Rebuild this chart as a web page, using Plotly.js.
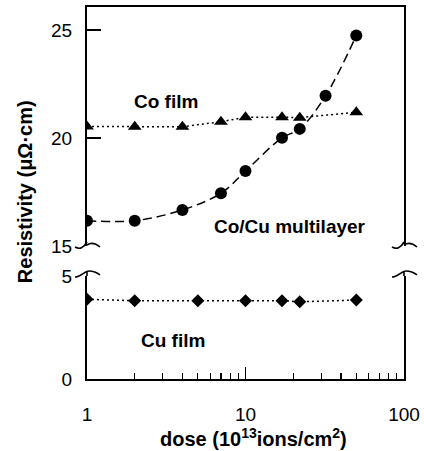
<!DOCTYPE html>
<html>
<head>
<meta charset="utf-8">
<script src="https://cdn.plot.ly/plotly-3.0.1.min.js"></script>
<style>html,body{margin:0;padding:0;background:#fff}#chart{width:424px;height:451px}</style>
</head>
<body>
<div id="chart"></div>
<script>
// Data
const coFilmDose = [1, 2, 4, 7, 10, 17, 22, 50];
const coFilmRes  = [20.53, 20.52, 20.52, 20.75, 20.96, 20.96, 20.94, 21.19];

const multiDose = [1, 2, 4, 7, 10, 17, 22, 32, 50];
const multiRes  = [16.17, 16.17, 16.67, 17.44, 18.47, 20.01, 20.42, 21.95, 24.74];

const cuFilmDose = [1, 2, 5, 10, 17, 22, 50];
const cuFilmRes  = [3.87, 3.80, 3.80, 3.80, 3.80, 3.75, 3.83];

const xTickVals = [1, 10, 100];
const xTickText = ['1', '10', '100'];
const xMinorVals = [2,3,4,5,6,7,8,9,20,30,40,50,60,70,80,90];
const upperTickVals = [15, 20, 25];
const upperTickMarks = [20, 25];
const lowerTickVals = [0, 5];

const labels = {co: 'Co film', multi: 'Co/Cu multilayer', cu: 'Cu film'};

const traces = [
  {x: coFilmDose, y: coFilmRes, xaxis: 'x2', yaxis: 'y2', mode: 'lines+markers',
   line: {color: '#000', width: 1.5, dash: '2px,3px'},
   marker: {symbol: 'triangle-up', size: 12, color: '#000'}},
  {x: multiDose, y: multiRes, xaxis: 'x2', yaxis: 'y2', mode: 'lines+markers',
   line: {color: '#000', width: 1.5, dash: '9px,5px', shape: 'spline', smoothing: 1},
   marker: {symbol: 'circle', size: 12, color: '#000'}},
  {x: cuFilmDose, y: cuFilmRes, xaxis: 'x', yaxis: 'y', mode: 'lines+markers',
   line: {color: '#000', width: 1.5, dash: '2px,3px'},
   marker: {symbol: 'diamond', size: 10, color: '#000'}}
];

const fam = 'Liberation Sans, Arial, sans-serif';
const tickFont = {family: fam, size: 19, color: '#000'};
const boldFont = {family: fam, size: 19, color: '#000', weight: 'bold'};
const titleFont = {family: fam, size: 20, color: '#000', weight: 'bold'};

const upperBottom = 0.3575, lowerTop = 0.2769;

function brk(side, anchor, upper) {
  const path = upper
    ? 'M -12,-1 Q -5,-5 0,4 M 0,1 Q 6,5 13,-1'
    : 'M -12,-1 C -6,-1 -3,5 2,5 Q 8,5 13,1 M 0,4 L 0,0';
  return {type: 'path', xref: 'paper', yref: 'paper', xsizemode: 'pixel', ysizemode: 'pixel',
    xanchor: side, yanchor: anchor, path: path, line: {color: '#000', width: 1.6}};
}

const layout = {
  width: 424, height: 451,
  margin: {l: 87, r: 20, t: 7, b: 72},
  paper_bgcolor: '#fff', plot_bgcolor: '#fff',
  showlegend: false,
  xaxis: {type: 'log', range: [0, 2], domain: [0, 1], anchor: 'y',
    tickvals: xTickVals, ticktext: xTickText,
    ticks: 'inside', ticklen: 12, tickwidth: 1.5, tickcolor: '#000',
    minor: {tickvals: xMinorVals, ticks: 'inside', ticklen: 6, tickwidth: 1.2, tickcolor: '#000', showgrid: false},
    showline: true, linewidth: 2, linecolor: '#000', mirror: false,
    showgrid: false, zeroline: false, tickfont: tickFont, ticklabelstandoff: 17},
  xaxis2: {type: 'log', matches: 'x', anchor: 'y2', side: 'top',
    showticklabels: false, ticks: '', showline: true, linewidth: 2, linecolor: '#000',
    showgrid: false, zeroline: false},
  yaxis: {domain: [0, lowerTop], range: [0, 5], anchor: 'x',
    tickvals: lowerTickVals, ticks: '', showline: true, linewidth: 2, linecolor: '#000',
    mirror: true, showgrid: false, zeroline: false, tickfont: tickFont, ticklabelstandoff: 9},
  yaxis2: {domain: [upperBottom, 1], range: [15, 26.06], anchor: 'x2',
    tickvals: upperTickVals, ticks: '',
    minor: {tickvals: upperTickMarks, ticks: 'inside', ticklen: 14, tickwidth: 1.5, tickcolor: '#000', showgrid: false},
    showline: true, linewidth: 2, linecolor: '#000',
    mirror: true, showgrid: false, zeroline: false, tickfont: tickFont, ticklabelstandoff: 9},
  shapes: [
    brk(0, upperBottom, true), brk(1, upperBottom, true),
    brk(0, lowerTop, false), brk(1, lowerTop, false)
  ],
  annotations: [
    {text: labels.co, xref: 'x2', yref: 'y2', x: Math.log10(3.17), y: 21.71, xanchor: 'center', yanchor: 'middle', showarrow: false, font: boldFont},
    {text: labels.multi, xref: 'x2', yref: 'y2', x: Math.log10(18.95), y: 15.88, xanchor: 'center', yanchor: 'middle', showarrow: false, font: boldFont},
    {text: labels.cu, xref: 'x', yref: 'y', x: Math.log10(3.51), y: 1.89, xanchor: 'center', yanchor: 'middle', showarrow: false, font: boldFont},
    {text: 'Resistivity (μΩ·cm)', xref: 'paper', yref: 'paper', x: -0.1956, y: 0.505,
     xanchor: 'center', yanchor: 'middle', textangle: -90, showarrow: false, font: titleFont},
    {text: 'dose (10<sup>13</sup>ions/cm<sup>2</sup>)', xref: 'paper', yref: 'paper', x: 0.5237, y: -0.157,
     xanchor: 'center', yanchor: 'middle', showarrow: false, font: titleFont}
  ]
};

Plotly.newPlot('chart', traces, layout, {displayModeBar: false, staticPlot: true});
</script>
</body>
</html>
